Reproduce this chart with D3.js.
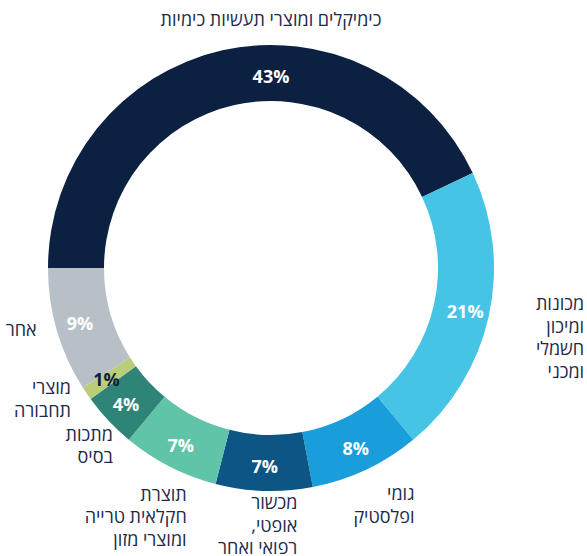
<!DOCTYPE html>
<html>
<head>
<meta charset="utf-8">
<script src="https://cdn.jsdelivr.net/npm/d3@7/dist/d3.min.js"></script>
<style>
  html, body { margin: 0; padding: 0; background: #fff; }
  svg { display: block; font-family: "Open Sans", "DejaVu Sans", sans-serif; }
</style>
</head>
<body>
<div id="chart"></div>
<script>
// categories (clockwise, starting at 9 o'clock)
var categories = [
  'כימיקלים ומוצרי תעשיות כימיות',
  'מכונות ומיכון חשמלי ומכני',
  'גומי ופלסטיק',
  'מכשור אופטי, רפואי ואחר',
  'תוצרת חקלאית טרייה ומוצרי מזון',
  'מתכות בסיס',
  'מוצרי תחבורה',
  'אחר'
];
// how each name is broken into lines
var labelLines = [
  ['כימיקלים ומוצרי תעשיות כימיות'],
  ['מכונות', 'ומיכון', 'חשמלי', 'ומכני'],
  ['גומי', 'ופלסטיק'],
  ['מכשור', 'אופטי,', 'רפואי ואחר'],
  ['תוצרת', 'חקלאית טרייה', 'ומוצרי מזון'],
  ['מתכות', 'בסיס'],
  ['מוצרי', 'תחבורה'],
  ['אחר']
];
var shares = [43, 21, 8, 7, 7, 4, 1, 9];
var colors = ['#0c2142', '#45c4e6', '#1a9ddb', '#0d5585', '#60c4a8', '#2e8477', '#bccd79', '#b7c0c6'];

function Donut(container) {
  this.container = container;
  this.w = 587;
  this.h = 556;
  this.cx = 271;
  this.cy = 268;
  this.outer = 223;
  this.inner = 167;
  this.init();
}

Donut.prototype.init = function() {
  this.svg = d3.select(this.container)
    .append('svg')
    .attr('width', this.w)
    .attr('height', this.h);

  this.g = this.svg.append('g')
    .attr('transform', 'translate(' + this.cx + ',' + this.cy + ')');

  var data = categories.map(function(c, i) {
    return { name: c, value: shares[i], lines: labelLines[i], color: colors[i], i: i };
  });

  // start at 9 o'clock, go clockwise
  this.pie = d3.pie()
    .value(function(d) { return d.value; })
    .sort(null)
    .startAngle(-Math.PI / 2)
    .endAngle(Math.PI * 1.5);

  this.arcs = this.pie(data);
  this.drawSlices();
  this.drawValues();
  this.drawNames();
}

Donut.prototype.drawSlices = function() {
  var arc = d3.arc().innerRadius(this.inner).outerRadius(this.outer);
  this.g.selectAll('path.slice')
    .data(this.arcs)
    .enter().append('path')
    .attr('class', 'slice')
    .attr('d', arc)
    .attr('fill', function(d) { return d.data.color; });
}

Donut.prototype.drawValues = function() {
  var r = 199;
  var valArc = d3.arc().innerRadius(r).outerRadius(r);
  this.g.selectAll('text.val')
    .data(this.arcs)
    .enter().append('text')
    .attr('class', 'val')
    .attr('transform', function(d) {
      // the big slice keeps its value at the top
      if (d.index === 0) return 'translate(0,' + (-r + 8) + ')';
      return 'translate(' + valArc.centroid(d) + ')';
    })
    .attr('text-anchor', 'middle')
    .attr('dy', '0.36em')
    .attr('font-size', 18)
    .attr('font-weight', 700)
    .attr('fill', function(d) { return d.data.value < 2 ? '#0c2142' : '#fff'; })
    .text(function(d) { return d.data.value + '%'; });
}

Donut.prototype.drawNames = function() {
  var rl = this.outer + 20;
  var nameArc = d3.arc().innerRadius(rl).outerRadius(rl);
  var lineH = 22.5;
  // hand tuned shifts from the anchor on the ring
  var nudge = {
    1: [76, -17], 2: [40, 6], 3: [34, -8], 4: [26, 10],
    5: [19, 0], 6: [1, -17], 7: [-1, -6]
  };
  var outer = this.outer;

  var names = this.g.selectAll('text.name')
    .data(this.arcs)
    .enter().append('text')
    .attr('class', 'name')
    .attr('fill', '#1d2b4b')
    .attr('font-size', 18)
    .attr('direction', 'rtl')
    .attr('text-anchor', function(d) { return d.index === 0 ? 'middle' : 'start'; })
    .attr('transform', function(d) {
      // title-like label above the ring for the big slice
      if (d.index === 0) return 'translate(0,' + (-outer - 25) + ')';
      var c = nameArc.centroid(d);
      var n = nudge[d.index];
      return 'translate(' + (c[0] + n[0]) + ',' + (c[1] + n[1]) + ')';
    });

  names.selectAll('tspan')
    .data(function(d) { return d.data.lines; })
    .enter().append('tspan')
    .attr('x', 0)
    .attr('y', function(l, i) { return i * lineH; })
    .attr('dy', '0.36em')
    .text(function(l) { return l; });
}

new Donut('#chart');
</script>
</body>
</html>
